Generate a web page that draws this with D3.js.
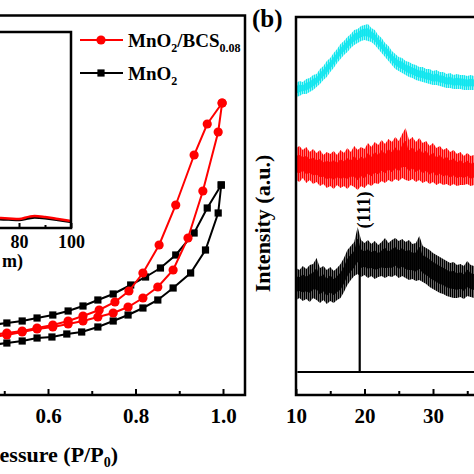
<!DOCTYPE html>
<html><head><meta charset="utf-8">
<script src="https://cdn.jsdelivr.net/npm/d3@7"></script>
<style>
html,body{margin:0;padding:0;background:#fff;}
svg{display:block;}
text{font-family:"Liberation Serif","Times New Roman",serif;font-weight:bold;fill:#000;}
</style></head>
<body>
<svg id="chart" width="474" height="474"></svg>
<script>
// ---------- Panel (a): N2 isotherms ----------
const redAdsP  = [0.47,0.506,0.541,0.575,0.611,0.646,0.68,0.714,0.749,0.783,0.817,0.851,0.886,0.92,0.954,0.989,0.998];
const redAdsV  = [29,30,31.5,33,34,35.5,37,39,41,44,48.5,54,62.5,78.5,102,131.5,146];
const redDesP  = [0.998,0.964,0.934,0.892,0.854,0.817,0.785,0.753,0.717,0.68,0.646,0.611,0.575,0.541,0.506,0.47];
const redDesV  = [146,135.5,120,95,75,61,52,46.5,42.5,39.5,37,35,33.5,32,31,30];
const blackAdsP = [0.47,0.506,0.541,0.575,0.609,0.643,0.677,0.714,0.749,0.783,0.817,0.851,0.886,0.926,0.96,0.989,0.996];
const blackAdsV = [25,26,27,28.5,29,30.5,31.5,34,37,40,43.5,47.5,53.5,61,72.5,91,105];
const blackDesP = [0.996,0.964,0.934,0.892,0.857,0.823,0.789,0.749,0.714,0.68,0.646,0.611,0.575,0.541,0.506,0.47];
const blackDesV = [105,93.5,81,70,63.5,59,55,50.5,47.5,44.5,42,40,38.5,37,36,35];
const pMajorTicks = [0.6,0.8,1.0];
const pMinorTicks = [0.5,0.7,0.9];

// inset: pore size distribution
const insetD      = [72,76,80,84,86,90,95,100];
const insetRed    = [0.051,0.049,0.046,0.058,0.061,0.056,0.046,0.036];
const insetBlack  = [0.045,0.043,0.041,0.050,0.053,0.050,0.041,0.031];
const insetMajorTicks = [80,100];
const insetMinorTicks = [90];

// ---------- Panel (b): XRD ----------
const twoTheta = [10,10.5,11,11.5,12,12.5,13,13.5,14,14.5,15,15.5,16,16.5,17,17.5,18,18.5,19,19.5,20,20.5,21,21.5,22,22.5,23,23.5,24,24.5,25,25.5,26,26.5,27,27.5,28,28.5,29,29.5,30,30.5,31,31.5,32,32.5,33,33.5,34,34.5,35,35.5,36];
const cyanHi = [312,314,313,316,317,320,321,326,329,334,337,342,346,351,354,358,361,365,366,369,370,371,367,365,360,357,352,349,344,341,338,337,334,333,331,330,328,328,326,326,324,325,323,323,321,322,320,321,320,320,319,320,319];
const cyanLo = [298,299,301,301,303,305,308,311,315,318,323,327,332,336,340,343,347,350,352,354,355,354,353,350,346,342,338,334,330,326,324,322,320,318,317,315,314,313,312,311,310,310,309,308,307,307,306,306,306,305,305,305,305];
const redHi = [247,249,245,248,243,246,242,245,240,243,241,244,240,245,242,247,243,249,245,248,246,252,248,253,250,255,251,256,253,258,254,261,267,255,258,253,257,252,254,249,252,247,249,245,247,243,245,241,243,239,242,239,240];
const redLo = [215,213,217,212,215,211,213,209,211,207,209,206,210,207,209,206,210,208,205,209,207,211,209,212,211,214,212,215,213,216,214,217,215,214,216,213,215,212,214,211,213,210,212,210,211,209,211,209,210,210,211,209,210];
const blackHi = [127,125,129,126,130,131,137,127,129,125,128,124,127,131,137,145,149,153,168,155,152,155,151,154,150,153,157,152,155,157,154,156,153,155,151,152,159,149,147,145,142,140,138,136,134,132,133,130,131,129,134,130,129];
const blackLo = [95,97,94,96,93,97,95,92,95,91,94,92,95,97,103,110,115,119,121,118,120,117,119,116,118,119,117,119,118,120,117,119,117,115,116,114,115,113,111,108,106,104,102,101,99,98,97,97,98,96,99,98,97];
const refPeak = {t:19.3, base:23, top:133, label:"(111)"};
const refBaseline = [10.2, 40];
const tMajorTicks = [10,20,30];
const tMinorTicks = [15,25,35];

// ---------- drawing ----------
const svg = d3.select("#chart");
const FONT = 21;
const defs = svg.append("defs");

// Panel (a) scales
const xa = d3.scaleLinear().domain([0.4,1.0]).range([-39.5,223]);
const ya = d3.scaleLinear().domain([0,190]).range([395,15]);
const ga = svg.append("g");

ga.append("path").attr("d","M-5,15.5H245V395H-5").attr("fill","none").attr("stroke","#000").attr("stroke-width",2.5);

const axA = ga.append("g").attr("transform","translate(0,395)");
axA.call(d3.axisBottom(xa).tickValues(pMajorTicks).tickSize(-6).tickPadding(13).tickFormat(d3.format(".1f")));
const axAm = ga.append("g").attr("transform","translate(0,395)");
axAm.call(d3.axisBottom(xa).tickValues(pMinorTicks).tickSize(-4).tickFormat(""));
[axA,axAm].forEach(a=>{a.select(".domain").remove();a.selectAll("line").attr("stroke-width",2);a.selectAll("text").attr("font-size",FONT).attr("font-family",null);});

// x title (visible part of the cropped title)
const xt = ga.append("text").attr("x",118).attr("y",462).attr("text-anchor","end").attr("font-size",22);
xt.append("tspan").text("essure (P/P");
xt.append("tspan").attr("font-size",14).attr("dy",5).text("0");
xt.append("tspan").attr("dy",-5).text(")");

function series(P,V){return P.map((p,i)=>({p:p,v:V[i]}));}
const lineA = d3.line().x(d=>xa(d.p)).y(d=>ya(d.v));
function drawIso(P,V,color,shape){
  const data = series(P,V);
  ga.append("path").datum(data).attr("d",lineA).attr("fill","none").attr("stroke",color).attr("stroke-width",2);
  if(shape==="circle"){
    ga.append("g").selectAll("circle").data(data).join("circle")
      .attr("cx",d=>xa(d.p)).attr("cy",d=>ya(d.v)).attr("r",4.6).attr("fill",color);
  } else {
    ga.append("g").selectAll("rect").data(data).join("rect")
      .attr("x",d=>xa(d.p)-3.6).attr("y",d=>ya(d.v)-3.6).attr("width",7.2).attr("height",7.2).attr("fill",color);
  }
}
drawIso(blackAdsP,blackAdsV,"#000","square");
drawIso(blackDesP,blackDesV,"#000","square");
drawIso(redAdsP,redAdsV,"#ff0000","circle");
drawIso(redDesP,redDesV,"#ff0000","circle");

// legend
const lg = ga.append("g");
const legY = [40,73];
const legC = ["#ff0000","#000"];
legY.forEach((yy,i)=>{
  lg.append("line").attr("x1",80).attr("x2",123).attr("y1",yy).attr("y2",yy).attr("stroke",legC[i]).attr("stroke-width",2.2);
  if(i===0) lg.append("circle").attr("cx",101).attr("cy",yy).attr("r",4.6).attr("fill",legC[i]);
  else lg.append("rect").attr("x",97.4).attr("y",yy-3.6).attr("width",7.2).attr("height",7.2).attr("fill",legC[i]);
});
const l1 = lg.append("text").attr("x",128).attr("y",47).attr("font-size",19);
l1.append("tspan").text("MnO");
l1.append("tspan").attr("font-size",12).attr("dy",5).text("2");
l1.append("tspan").attr("dy",-5).text("/BCS");
l1.append("tspan").attr("font-size",12).attr("dy",5).text("0.08");
const l2 = lg.append("text").attr("x",128).attr("y",80).attr("font-size",19);
l2.append("tspan").text("MnO");
l2.append("tspan").attr("font-size",12).attr("dy",5).text("2");

// inset
const xi = d3.scaleLinear().domain([80,100]).range([19,71]);
const yi = d3.scaleLinear().domain([0,1]).range([228,32]);
const gi = ga.append("g");
defs.append("clipPath").attr("id","insetClip").append("rect").attr("x",-20).attr("y",32).attr("width",91).attr("height",196);
const lineI = d3.line().x(d=>xi(d.d)).y(d=>yi(d.v)).curve(d3.curveMonotoneX);
gi.append("path").datum(insetD.map((d,i)=>({d:d,v:insetBlack[i]}))).attr("d",lineI).attr("fill","none").attr("stroke","#000").attr("stroke-width",2.5).attr("clip-path","url(#insetClip)");
gi.append("path").datum(insetD.map((d,i)=>({d:d,v:insetRed[i]}))).attr("d",lineI).attr("fill","none").attr("stroke","#ff0000").attr("stroke-width",2.5).attr("clip-path","url(#insetClip)");
gi.append("path").attr("d","M-5,32H71V228H-5").attr("fill","none").attr("stroke","#000").attr("stroke-width",2.5);
const axI = gi.append("g").attr("transform","translate(0,228)");
axI.call(d3.axisBottom(xi).tickValues(insetMajorTicks).tickSize(-5).tickPadding(7));
const axIm = gi.append("g").attr("transform","translate(0,228)");
axIm.call(d3.axisBottom(xi).tickValues(insetMinorTicks).tickSize(-3).tickFormat(""));
[axI,axIm].forEach(a=>{a.select(".domain").remove();a.selectAll("line").attr("stroke-width",2);a.selectAll("text").attr("font-size",18).attr("font-family",null);});
gi.append("text").attr("x",23).attr("y",267).attr("text-anchor","end").attr("font-size",18).text("m)");

// Panel (b)
const xb = d3.scaleLinear().domain([10,40]).range([296,501.5]);
const yb = d3.scaleLinear().domain([0,378]).range([395,17]);
const gb = svg.append("g");
defs.append("clipPath").attr("id","bClip").append("rect").attr("x",297).attr("y",17).attr("width",200).attr("height",378);

function makePattern(id,color,tint){
  const p = defs.append("pattern").attr("id",id).attr("width",2).attr("height",5).attr("patternUnits","userSpaceOnUse");
  p.append("rect").attr("width",2).attr("height",5).attr("fill",tint);
  p.append("rect").attr("width",1).attr("height",5).attr("fill",color);
}
makePattern("pCyan","#12e6ee","#8ef4f7");
makePattern("pRed","#ff0000","#ff7070");
makePattern("pBlack","#000","#666");

function band(hi,lo,color,pat){
  const data = twoTheta.map((t,i)=>({t:t,hi:hi[i],lo:lo[i]}));
  const outer = d3.area().x(d=>xb(d.t)).y0(d=>yb(d.lo)).y1(d=>yb(d.hi));
  const core = d3.area().x(d=>xb(d.t))
    .y0(d=>yb((d.hi+d.lo)/2-(d.hi-d.lo)*0.25)).y1(d=>yb((d.hi+d.lo)/2+(d.hi-d.lo)*0.25)).curve(d3.curveMonotoneX);
  gb.append("path").datum(data).attr("d",outer).attr("fill",`url(#${pat})`).attr("clip-path","url(#bClip)");
  gb.append("path").datum(data).attr("d",core).attr("fill",color).attr("opacity",0.9).attr("clip-path","url(#bClip)");
}
band(cyanHi,cyanLo,"#12e6ee","pCyan");
band(redHi,redLo,"#ff0000","pRed");
band(blackHi,blackLo,"#000","pBlack");

gb.append("line").attr("x1",xb(refBaseline[0])).attr("x2",xb(refBaseline[1])).attr("y1",yb(refPeak.base)).attr("y2",yb(refPeak.base)).attr("stroke","#000").attr("stroke-width",2.2);
gb.append("line").attr("x1",xb(refPeak.t)).attr("x2",xb(refPeak.t)).attr("y1",yb(refPeak.base)).attr("y2",yb(refPeak.top)).attr("stroke","#000").attr("stroke-width",2.2);
gb.append("text").attr("transform",`translate(${xb(refPeak.t)+10},210) rotate(-90)`).attr("text-anchor","middle").attr("font-size",18).text(refPeak.label);

gb.append("path").attr("d","M480,17H296V395H480").attr("fill","none").attr("stroke","#000").attr("stroke-width",2.5);
const axB = gb.append("g").attr("transform","translate(0,395)");
axB.call(d3.axisBottom(xb).tickValues(tMajorTicks).tickSize(-6).tickPadding(13));
const axBm = gb.append("g").attr("transform","translate(0,395)");
axBm.call(d3.axisBottom(xb).tickValues(tMinorTicks).tickSize(-4).tickFormat(""));
[axB,axBm].forEach(a=>{a.select(".domain").remove();a.selectAll("line").attr("stroke-width",2);a.selectAll("text").attr("font-size",FONT).attr("font-family",null);});

gb.append("text").attr("transform","translate(270,223.5) rotate(-90)").attr("text-anchor","middle").attr("font-size",22).text("Intensity (a.u.)");
gb.append("text").attr("x",252).attr("y",27).attr("font-size",25).text("(b)");
</script>
</body></html>
